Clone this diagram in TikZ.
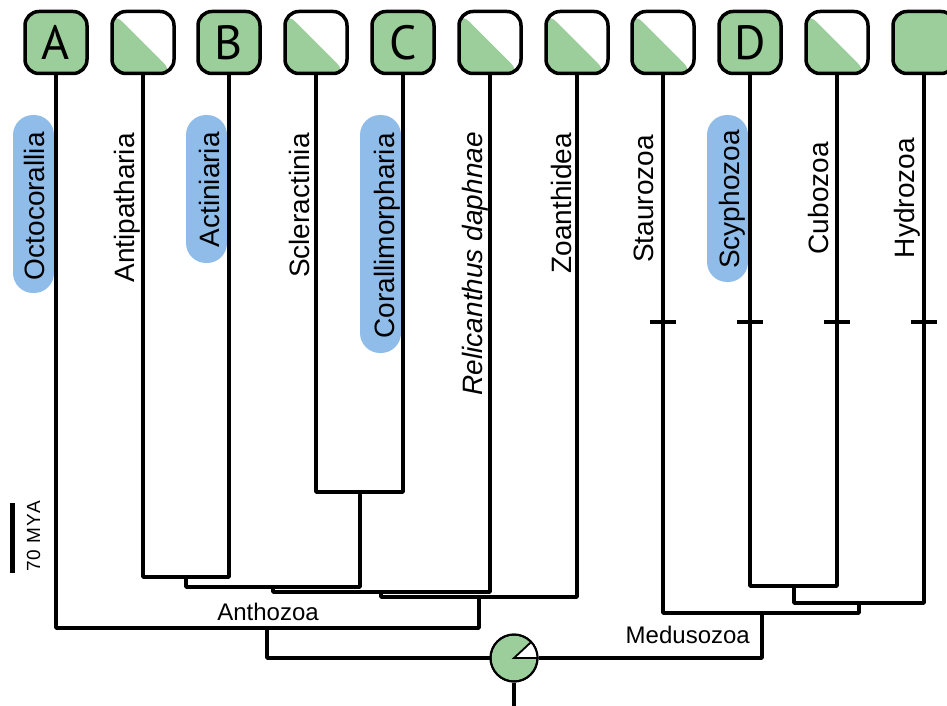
\documentclass[tikz,border=0pt]{standalone}
\usepackage{fontspec}
\setmainfont{Liberation Sans}
\newfontfamily\boxfont{PT Sans}
\newfontfamily\scalefont[LetterSpace=6]{Liberation Sans}
\definecolor{leaf}{RGB}{155,206,155}
\definecolor{pillc}{RGB}{143,188,232}
\begin{document}
\begin{tikzpicture}[x=1pt,y=-1pt,
  br/.style={line width=3.5pt, line join=round},
  tipbox/.style={draw, line width=3.5pt, rounded corners=14pt, minimum width=62pt, minimum height=62pt, inner sep=0pt, font=\boxfont\fontsize{48}{50}\selectfont},
  full/.style={tipbox, fill=leaf},
  half/.style={tipbox, fill=white, path picture={\fill[leaf] (path picture bounding box.north west) -- (path picture bounding box.south east) -- (path picture bounding box.south west) -- cycle;}},
  taxon/.style={rotate=90, anchor=base east, inner sep=0pt, font=\fontsize{28}{30}\selectfont},
  pill/.style={fill=pillc, rounded corners=20pt},
  tickmark/.style={line width=4pt},
  clade/.style={font=\fontsize{24}{26}\selectfont, inner sep=0pt}
]
\useasboundingbox (0,0) rectangle (947,706);

% highlight pills
\fill[pill] (13,115) rectangle (54,293);
\fill[pill] (186,115) rectangle (227,263);
\fill[pill] (360,115) rectangle (401,353);
\fill[pill] (707,115) rectangle (748,282);

% taxon labels
\node[taxon] (tOcto) at (44,132) {Octocorallia};
\node[taxon] (tAntip) at (134,133) {Antipatharia};
\node[taxon] (tActin) at (219,132) {Actiniaria};
\node[taxon] (tScler) at (309,133) {Scleractinia};
\node[taxon] (tCoral) at (394,133) {Corallimorpharia};
\node[taxon, font=\itshape\fontsize{28}{30}\selectfont] (tRelic) at (482,132) {Relicanthus daphnae};
\node[taxon] (tZoan) at (571,133) {Zoanthidea};
\node[taxon] (tStau) at (653,135) {Staurozoa};
\node[taxon] (tScyph) at (739,130) {Scyphozoa};
\node[taxon] (tCubo) at (828,142) {Cubozoa};
\node[taxon] (tHydro) at (914,138) {Hydrozoa};

% tip boxes
\node[full] (b1) at (56,42.5) {A};
\node[half] (b2) at (143,42.5) {};
\node[full] (b3) at (229,42.5) {B};
\node[half] (b4) at (316,42.5) {};
\node[full] (b5) at (403,42.5) {C};
\node[half] (b6) at (490,42.5) {};
\node[half] (b7) at (577,42.5) {};
\node[half] (b8) at (663,42.5) {};
\node[full] (b9) at (750,42.5) {D};
\node[half] (b10) at (837,42.5) {};
\node[full] (b11) at (924,42.5) {};

% internal nodes
\coordinate (nAA) at (186,577);
\coordinate (nSC) at (360,492);
\coordinate (nASC) at (273,587);
\coordinate (nR) at (381,592);
\coordinate (nZ) at (479,597);
\coordinate (nAnth) at (267,628);
\coordinate (nCS) at (794,586);
\coordinate (nCSH) at (859,603);
\coordinate (nMed) at (762,613);
\coordinate (root) at (514,706);

% root pie
\node[circle, draw, line width=2pt, fill=leaf, minimum size=47pt, inner sep=0pt] (pie) at (514,658) {};
\fill[white] (pie.center) -- ++(0:23.5) arc (0:-43:23.5) -- cycle;
\draw[line width=1.8pt] (pie.east) -- (pie.center) -- ++(-43:23.5);
\draw[line width=2pt] (pie.center) circle (23.5);

% branches
\draw[br] (b2.south) |- (nAA) -| (b3.south);
\draw[br] (b4.south) |- (nSC) -| (b5.south);
\draw[br] (nAA) |- (nASC) -| (nSC);
\draw[br] (nASC) |- (nR) -| (b6.south);
\draw[br] (nR) |- (nZ) -| (b7.south);
\draw[br] (b1.south) |- (nAnth) -| (nZ);
\draw[br] (b9.south) |- (nCS) -| (b10.south);
\draw[br] (nCS) |- (nCSH) -| (b11.south);
\draw[br] (b8.south) |- (nMed) -| (nCSH);
\draw[br] (nAnth) |- (pie.west);
\draw[br] (pie.east) -| (nMed);
\draw[br] (pie.south) -- (root);

% ticks on medusozoan branches
\foreach \b in {b8,b9,b10,b11}{
  \draw[tickmark] ([xshift=-13pt]\b.south |- 0,322) -- ([xshift=13pt]\b.south |- 0,322);
}

% clade labels
\node[clade, anchor=base] (lAnth) at (268,620) {Anthozoa};
\node[clade, anchor=base east] (lMed) at (750,643) {Medusozoa};

% scale bar
\draw[line width=5pt] (12,503) -- (12,573);
\node[rotate=90, anchor=base west, inner sep=0pt, font=\scalefont\fontsize{19}{20}\selectfont] (scale) at (40,572) {70 MYA};
\end{tikzpicture}
\end{document}
